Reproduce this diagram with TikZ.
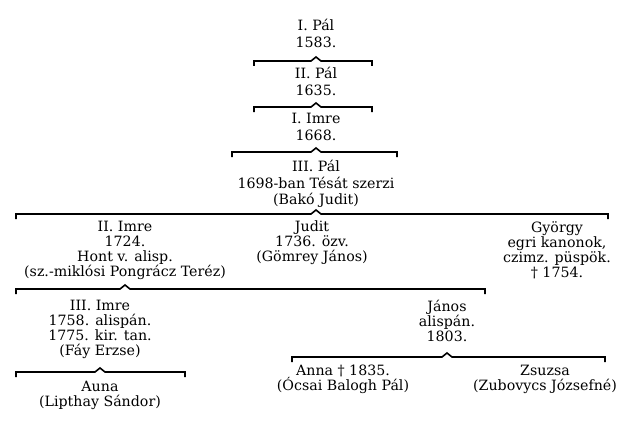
\documentclass[tikz,border=0pt]{standalone}
\usepackage{fontspec}
\setmainfont{DejaVu Serif}

\tikzset{
  person/.style={align=center, inner sep=0pt, anchor=north,
    font=\fontsize{14.2}{15}\selectfont},
  kin/.style={line width=1.6pt, line cap=butt},
}

% family bracket: parent node, left end x, right end x, height y
\newcommand\kinline[4]{%
  \coordinate (#1-k) at (#1.south |- 0,#4);
  \coordinate (#1-l) at (#2,#4);
  \coordinate (#1-r) at (#3,#4);
  \draw[kin] ([yshift=-5pt]#1-l) -- (#1-l) -- ([xshift=-5pt]#1-k)
    -- ([yshift=4pt]#1-k) -- ([xshift=5pt]#1-k) -- (#1-r)
    -- ([yshift=-5pt]#1-r);}

\begin{document}
\begin{tikzpicture}[x=1pt, y=-1pt]
  \useasboundingbox (0,0) rectangle (624,428);

  % main line
  \node[person] (palI) at (316,19) {I. Pál\\[1.5pt]1583.};
  \kinline{palI}{254}{372}{61}
  \node[person] (palII) at (316,67) {II. Pál\\[1.5pt]1635.};
  \kinline{palII}{254}{372}{107}
  \node[person] (imreI) at (316,113) {I. Imre\\[1.5pt]1668.};
  \kinline{imreI}{232}{397}{152}
  \node[person] (palIII) at (316,160)
    {III. Pál\\[1.5pt]1698-ban Tésát szerzi\\[1.5pt](Bakó Judit)};
  \kinline{palIII}{16}{608}{214}

  % children of III. Pál
  \node[person] (imreII) at (125,221)
    {II. Imre\\1724.\\Hont v. alisp.\\(sz.-miklósi Pongrácz Teréz)};
  \node[person] (judit) at (312,221) {Judit\\1736. özv.\\(Gömrey János)};
  \node[person] (gyorgy) at (557,221)
    {György\\egri kanonok,\\czimz. püspök.\\† 1754.};
  \kinline{imreII}{16}{485}{289}

  % children of II. Imre
  \node[person] (imreIII) at (100,300)
    {III. Imre\\1758. alispán.\\1775. kir. tan.\\(Fáy Erzse)};
  \node[person] (janos) at (447,300) {János\\alispán.\\1803.};
  \kinline{imreIII}{16}{185}{372}
  \kinline{janos}{292}{605}{357}

  % grandchildren
  \node[person] (annaL) at (100,381) {Auna\\(Lipthay Sándor)};
  \node[person] (annaR) at (343,365) {Anna † 1835.\\(Ócsai Balogh Pál)};
  \node[person] (zsuzsa) at (545,365) {Zsuzsa\\(Zubovycs Józsefné)};
\end{tikzpicture}
\end{document}
